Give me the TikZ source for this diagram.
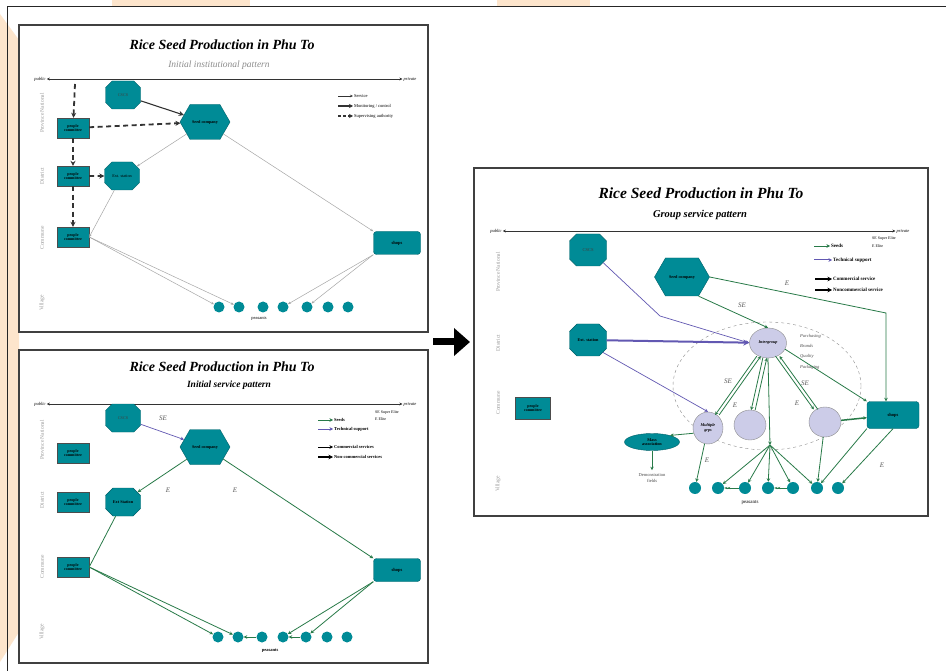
\documentclass[tikz,border=0pt]{standalone}
\usepackage{fontspec}
\setmainfont{Liberation Serif}
\usetikzlibrary{arrows.meta,shapes.geometric,shapes.misc,shapes.symbols}

\definecolor{tealc}{RGB}{0,139,150}
\definecolor{lavc}{RGB}{204,204,232}
\definecolor{seedg}{RGB}{40,122,72}
\definecolor{techp}{RGB}{98,88,178}
\definecolor{peach}{RGB}{253,229,204}

\tikzset{
  panel/.style={draw=black!75, line width=1.6pt},
  ttl/.style={font=\fontsize{14}{16}\selectfont\bfseries\itshape},
  bigttl/.style={font=\fontsize{15.5}{17}\selectfont\bfseries\itshape},
  subttl/.style={font=\fontsize{9.5}{11}\selectfont\itshape},
  endlab/.style={font=\fontsize{4.5}{5}\selectfont\itshape, inner sep=1pt},
  rowlab/.style={rotate=90, text=black!40, font=\fontsize{5.5}{6}\selectfont},
  axisln/.style={draw=black!80, line width=0.8pt, {Stealth[length=3pt,width=3pt]}-{Stealth[length=3pt,width=3pt]}},
  pcbox/.style={draw=black!70, fill=tealc, minimum width=32pt, minimum height=20pt, inner sep=0pt,
    align=center, font=\fontsize{4}{4.4}\selectfont\bfseries},
  octa/.style={chamfered rectangle, chamfered rectangle xsep=6pt, chamfered rectangle ysep=6pt,
    draw=tealc!70!black, fill=tealc, minimum width=35pt, minimum height=28pt, inner sep=0pt,
    align=center, font=\fontsize{4.2}{4.6}\selectfont\bfseries},
  hexa/.style={signal, signal to=east and west, signal pointer angle=120, draw=tealc!70!black,
    fill=tealc, minimum width=50pt, minimum height=35pt, inner sep=0pt,
    font=\fontsize{4.2}{4.6}\selectfont\bfseries},
  shopbox/.style={rounded corners=3pt, draw=tealc!70!black, fill=tealc, minimum width=47pt,
    minimum height=23pt, font=\fontsize{4.5}{5}\selectfont\bfseries},
  peasant/.style={circle, fill=tealc, minimum size=11pt, inner sep=0pt},
  grp/.style={ellipse, draw=black!45, fill=lavc, inner sep=0pt, align=center,
    font=\fontsize{4.2}{4.6}\selectfont\bfseries\itshape},
  legtxt/.style={anchor=west, inner sep=1pt, font=\fontsize{4.5}{5}\selectfont},
  elab/.style={text=black!65, inner sep=0pt, font=\fontsize{7}{8}\selectfont\itshape},
  serv/.style={draw=black!35, line width=0.5pt, -{Stealth[length=3pt,width=2.5pt]}},
  monit/.style={draw=black!80, line width=1.1pt, -{Stealth[length=5pt,width=5pt]}},
  superv/.style={draw=black!80, line width=1.8pt, dash pattern=on 5pt off 3.5pt,
    -{Stealth[length=5pt,width=5pt]}},
  seedln/.style={draw=seedg, line width=0.8pt, -{Stealth[length=3.5pt,width=3.5pt]}},
  techln/.style={draw=techp, line width=0.7pt, -{Stealth[length=3.5pt,width=3.5pt]}},
  comm/.style={draw=black, line width=0.7pt, -{Stealth[length=3.5pt,width=3.5pt]}},
  noncomm/.style={draw=black, line width=1.4pt, -{Stealth[length=4.5pt,width=4.5pt]}}
}

\begin{document}
\begin{tikzpicture}[x=1pt,y=-1pt]
\useasboundingbox (0,0) rectangle (946,671);
% background
\path[fill=white] (0,0) rectangle (946,671);
\path[fill=peach] (112,0) rectangle (250,7);
\path[fill=peach] (497,0) rectangle (590,7);
\path[fill=peach] (0,14) -- (19,40) -- (19,632) -- (0,662) -- cycle;
\draw[black!85, line width=1pt] (7,671) -- (7,7) -- (946,7);

% ---------- panel 1: initial institutional pattern ----------
\draw[panel] (19,25) rectangle (428,332);
\node[ttl] (titA) at (222,45) {Rice Seed Production in Phu To};
\node[subttl, text=black!45] (subA) at (219,65) {Initial institutional pattern};
\node[endlab] (pubA) at (40,79) {public};
\node[endlab] (priA) at (410,79) {private};
\draw[axisln] (pubA.east) -- (priA.west);
\node[rowlab] at (42,113) {Province National};
\node[rowlab] at (42,176) {District};
\node[rowlab] at (42,238) {Commune};
\node[rowlab] at (42,303) {Village};

\node[octa, font=\fontsize{4.2}{4.6}\selectfont, text=black!75] (cscsA) at (123,95) {CSCS};
\node[hexa] (seedA) at (205,122) {Seed company};
\node[pcbox] (pcA1) at (73,128) {people\\committee};
\node[pcbox] (pcA2) at (73,176) {people\\committee};
\node[pcbox] (pcA3) at (73,237) {people\\committee};
\node[octa, font=\fontsize{4.2}{4.6}\selectfont] (extA) at (122,176) {Ext. station};
\node[shopbox] (shopsA) at (397,243) {shops};
\foreach \i/\px in {1/219,2/239,3/263,4/283,5/307,6/328,7/348}
  \node[peasant] (pA\i) at (\px,307) {};
\node[legtxt, anchor=center] (peaA) at (259,319) {peasants};

\coordinate (topA) at (75,84);
\draw[superv] (topA) -- (pcA1);
\draw[superv] (pcA1) -- (pcA2);
\draw[superv] (pcA2) -- (pcA3);
\draw[superv] (pcA1) -- (seedA);
\draw[superv] (pcA2) -- (extA);
\draw[monit] (cscsA) -- (seedA);
\draw[serv] (seedA) -- (extA);
\draw[serv] (seedA) -- (shopsA.north west);
\draw[serv] (extA) -- (pcA3.east);
\draw[serv] (pcA3.east) -- (pA1);
\draw[serv] (pcA3.east) -- (pA2);
\draw[serv] (shopsA.south west) -- (pA4);
\draw[serv] (shopsA.south west) -- (pA5);

% legend 1
\node[legtxt] (lgA1) at (353,96) {Service};
\node[legtxt] (lgA2) at (353,106) {Monitoring / control};
\node[legtxt] (lgA3) at (353,116) {Supervising authority};
\coordinate (lsA1) at (338,96);
\coordinate (lsA2) at (338,106);
\coordinate (lsA3) at (338,116);
\draw[draw=black!80, line width=0.5pt, -{Stealth[length=3pt,width=2.5pt]}] (lsA1) -- (lgA1.west);
\draw[monit, line width=1.2pt, -{Stealth[length=4pt,width=4pt]}] (lsA2) -- (lgA2.west);
\draw[superv, dash pattern=on 3pt off 2pt, -{Stealth[length=4pt,width=4pt]}] (lsA3) -- (lgA3.west);

% ---------- panel 2: initial service pattern ----------
\draw[panel] (19,350) rectangle (428,663);
\node[ttl] (titB) at (222,367) {Rice Seed Production in Phu To};
\node[subttl, font=\fontsize{9.5}{11}\selectfont\bfseries\itshape] (subB) at (229,385) {Initial service pattern};
\node[endlab] (pubB) at (40,404) {public};
\node[endlab] (priB) at (410,404) {private};
\draw[axisln] (pubB.east) -- (priB.west);
\node[rowlab] at (42,440) {Province National};
\node[rowlab] at (42,500) {District};
\node[rowlab] at (42,567) {Commune};
\node[rowlab] at (42,632) {Village};

\node[octa, font=\fontsize{4.2}{4.6}\selectfont, text=black!75] (cscsB) at (123,418) {CSCS};
\node[hexa] (seedB) at (205,447) {Seed company};
\node[pcbox] (pcB1) at (73,453) {people\\committee};
\node[pcbox] (pcB2) at (73,502) {people\\committee};
\node[pcbox] (pcB3) at (73,567) {people\\committee};
\node[octa] (extB) at (123,502) {Ext Station};
\node[shopbox] (shopsB) at (397,570) {shops};
\foreach \i/\px in {1/218,2/238,3/262,4/283,5/306,6/327,7/347}
  \node[peasant] (pB\i) at (\px,637) {};
\node[legtxt, anchor=center, font=\fontsize{4.5}{5}\selectfont\bfseries] (peaB) at (270,651) {peasants};

\node[elab] (seB) at (163,418) {SE};
\node[elab] (eB1) at (168,490) {E};
\node[elab] (eB2) at (235,490) {E};
\draw[techln] (cscsB) -- (seedB);
\draw[seedln] (seedB) -- (extB);
\draw[seedln] (seedB) -- (shopsB.north west);
\draw[seedln, -] (extB) -- (pcB3.east);
\draw[seedln] (pcB3.east) -- (pB1);
\draw[seedln] (pcB3.east) -- (pB2);
\draw[seedln] (shopsB.south west) -- (pB4);
\draw[seedln] (shopsB.south west) -- (pB5);
\draw[seedln] (pB3) -- (pB2);
\draw[seedln] (pB5) -- (pB4);

% legend 2
\node[legtxt, font=\fontsize{4.5}{5}\selectfont\bfseries] (lgB1) at (333,420) {Seeds};
\node[legtxt, font=\fontsize{4.5}{5}\selectfont\bfseries] (lgB2) at (333,429) {Technical support};
\node[legtxt, font=\fontsize{4.5}{5}\selectfont\bfseries] (lgB3) at (333,447) {Commercial services};
\node[legtxt, font=\fontsize{4.5}{5}\selectfont\bfseries] (lgB4) at (333,457) {Non-commercial services};
\node[legtxt, font=\fontsize{4}{4.5}\selectfont] (lgB5) at (374,413) {SE Super Elite};
\node[legtxt, font=\fontsize{4}{4.5}\selectfont] (lgB6) at (374,419) {E Elite};
\coordinate (lsB1) at (318,420);
\coordinate (lsB2) at (318,429);
\coordinate (lsB3) at (318,447);
\coordinate (lsB4) at (318,457);
\draw[seedln] (lsB1) -- (lgB1.west);
\draw[techln] (lsB2) -- (lgB2.west);
\draw[comm] (lsB3) -- (lgB3.west);
\draw[noncomm] (lsB4) -- (lgB4.west);

% ---------- big arrow ----------
\coordinate (arS) at (433,342);
\coordinate (arE) at (470,342);
\draw[line width=7pt, -{Triangle[length=16pt,width=27pt]}] (arS) -- (arE);

% ---------- panel 3: group service pattern ----------
\draw[panel] (474,168) rectangle (928,516);
\node[bigttl] (titC) at (701,193) {Rice Seed Production in Phu To};
\node[subttl, font=\fontsize{10.5}{12}\selectfont\bfseries\itshape] (subC) at (700,215) {Group service pattern};
\node[endlab] (pubC) at (496,231) {public};
\node[endlab] (priC) at (903,231) {private};
\draw[axisln] (pubC.east) -- (priC.west);
\node[rowlab] at (498,272) {Province National};
\node[rowlab] at (498,343) {District};
\node[rowlab] at (498,403) {Commune};
\node[rowlab] at (498,484) {Village};

\node[ellipse, draw=black!45, dashed, minimum width=188pt, minimum height=128pt] (zoneC) at (767,386) {};
\node[octa, font=\fontsize{4.5}{5}\selectfont, text=black!75, minimum width=37pt, minimum height=32pt] (cscsC) at (588,250) {CSCS};
\node[hexa, minimum width=55pt, minimum height=38pt] (seedC) at (682,277) {Seed company};
\node[octa, minimum width=37pt, minimum height=32pt] (extC) at (588,340) {Ext. station};
\node[grp, minimum width=37pt, minimum height=30pt] (interC) at (768,343) {Intergroup};
\node[grp, minimum width=30pt, minimum height=32pt] (multC) at (708,428) {Multiple\\grps};
\node[grp, minimum width=32pt, minimum height=30pt] (midC) at (750,425) {};
\node[grp, minimum width=32pt, minimum height=30pt] (rightC) at (825,422) {};
\node[shopbox, minimum width=52pt, minimum height=27pt] (shopsC) at (893,415) {shops};
\node[pcbox, minimum width=35pt, minimum height=22pt] (pcC) at (533,408) {people\\committee};
\node[ellipse, draw=tealc!70!black, fill=tealc, minimum width=55pt, minimum height=17pt, inner sep=0pt,
  align=center, font=\fontsize{4.2}{4.5}\selectfont\bfseries] (massC) at (652,442) {Mass\\association};
\node[align=center, text=black!70, font=\fontsize{4.5}{5.5}\selectfont] (demoC) at (652,478) {Demonstration\\fields};
\node[anchor=north west, align=left, inner sep=0pt, text=black!70,
  font=\fontsize{4.5}{10.3}\selectfont\itshape] (servC) at (800,334) {Purchasing\\Brands\\Quality\\Packaging};
\foreach \i/\px in {1/695,2/718,3/745,4/768,5/793,6/817,7/838}
  \node[peasant, minimum size=12pt] (pC\i) at (\px,488) {};
\node[font=\fontsize{5}{6}\selectfont] (peaC) at (750,503) {peasants};
\coordinate (bendC) at (660,316);
\coordinate (cornC) at (886,313);
\coordinate (hubC) at (770,445);

\node[elab] (seC1) at (742,305) {SE};
\node[elab] (eC1) at (787,283) {E};
\node[elab] (seC2) at (728,381) {SE};
\node[elab] (eC2) at (735,405) {E};
\node[elab] (seC3) at (805,383) {SE};
\node[elab] (eC3) at (797,403) {E};
\node[elab] (eC4) at (707,460) {E};
\node[elab] (eC5) at (882,465) {E};

\draw[techln] (cscsC.south east) -- (bendC) -- (interC.west);
\draw[techln, line width=2pt, -{Stealth[length=6pt,width=6pt]}] (extC) -- (interC);
\draw[techln] (extC.south east) -- (multC.north);
\draw[seedln] (seedC.south east) -- (interC.north);
\draw[seedln] (seedC.east) -- (cornC) -- (cornC |- shopsC.north);
\draw[seedln] ([xshift=-2pt]interC.235) -- ([xshift=-2pt]multC.55);
\draw[seedln] ([xshift=2pt]multC.55) -- ([xshift=2pt]interC.235);
\draw[seedln] ([xshift=-2pt]interC.258) -- ([xshift=-2pt]midC.78);
\draw[seedln] ([xshift=2pt]midC.78) -- ([xshift=2pt]interC.258);
\draw[seedln] ([xshift=-2pt]interC.306) -- ([xshift=-2pt]rightC.126);
\draw[seedln] ([xshift=2pt]rightC.126) -- ([xshift=2pt]interC.306);
\draw[seedln] (interC.south) -- (hubC);
\draw[seedln] (interC.-20) -- (shopsC.north west);
\draw[seedln, line width=1.5pt] (rightC) -- (shopsC);
\draw[seedln] (multC.200) -- (massC.20);
\draw[seedln] (massC) -- (demoC);
\draw[seedln] (multC) -- (pC1);
\foreach \j in {2,3,4,5,6}
  \draw[seedln] (hubC) -- (pC\j);
\draw[seedln] (rightC) -- (pC6);
\draw[seedln] (shopsC.south west) -- (pC6);
\draw[seedln] (shopsC.south) -- (pC7);
\draw[seedln, -{Stealth[length=3pt]Stealth[length=3pt]}] (pC3) -- (pC2);
\draw[seedln, -{Stealth[length=3pt]Stealth[length=3pt]}] (pC5) -- (pC4);

% legend 3
\node[legtxt, font=\fontsize{5}{6}\selectfont\bfseries] (lgC1) at (830,246) {Seeds};
\node[legtxt, font=\fontsize{5}{6}\selectfont\bfseries] (lgC2) at (832,260) {Technical support};
\node[legtxt, font=\fontsize{5}{6}\selectfont\bfseries] (lgC3) at (832,279) {Commercial service};
\node[legtxt, font=\fontsize{5}{6}\selectfont\bfseries] (lgC4) at (832,290) {Noncommercial service};
\node[legtxt, font=\fontsize{4}{4.5}\selectfont] (lgC5) at (871,239) {SE Super Elite};
\node[legtxt, font=\fontsize{4}{4.5}\selectfont] (lgC6) at (871,246) {E Elite};
\coordinate (lsC1) at (814,246);
\coordinate (lsC2) at (814,260);
\coordinate (lsC3) at (815,279);
\coordinate (lsC4) at (815,290);
\draw[seedln, line width=0.5pt] (lsC1) -- (lgC1.west);
\draw[techln, line width=1pt] (lsC2) -- (lgC2.west);
\draw[noncomm, line width=1.1pt] (lsC3) -- (lgC3.west);
\draw[noncomm, line width=1.6pt] (lsC4) -- (lgC4.west);
\end{tikzpicture}
\end{document}
